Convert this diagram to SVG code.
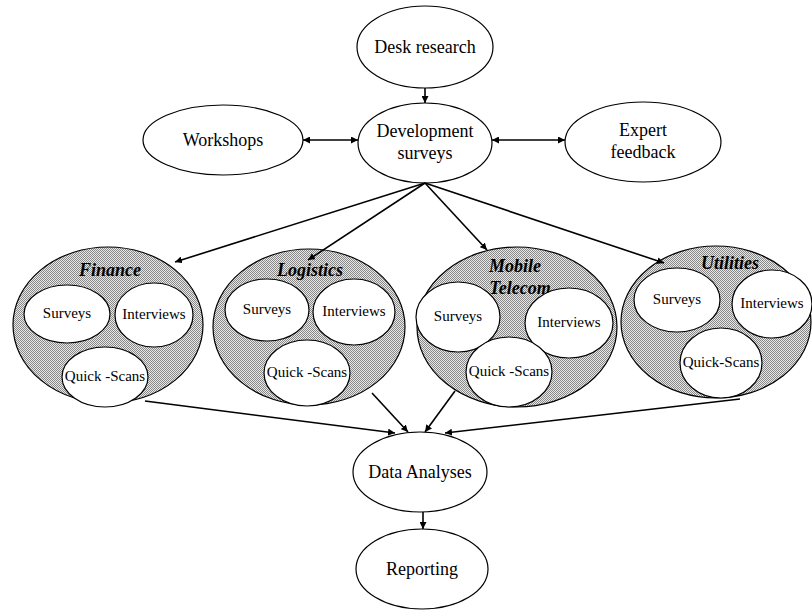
<svg xmlns="http://www.w3.org/2000/svg" width="812" height="610" viewBox="0 0 812 610" font-family="'Liberation Serif', 'DejaVu Serif', serif">
<style>
.n{fill:#fff;stroke:#000;stroke-width:1.2}
.g{fill:url(#dots);stroke:#000;stroke-width:1.2}
.c{fill:#fff;stroke:#000;stroke-width:1.2}
text{font-family:'Liberation Serif','DejaVu Serif',serif;fill:#000;text-anchor:middle}
.t{font-size:18px}
.s{font-size:15px}
.h{font-size:18px;font-weight:bold;font-style:italic}
.e{stroke:#000;stroke-width:1.6;fill:none}
</style>
<defs>
<pattern id="dots" width="2" height="2" patternUnits="userSpaceOnUse">
<rect width="2" height="2" fill="#e8e8e8"/>
<rect width="1" height="1" fill="#888"/>
<rect x="1" y="1" width="1" height="1" fill="#888"/>
</pattern>
<marker id="a" viewBox="0 0 10 10" refX="10" refY="5" markerWidth="7" markerHeight="7" orient="auto" markerUnits="userSpaceOnUse">
<path d="M0,0 L10,5 L0,10 z" fill="#000"/>
</marker>
<marker id="b" viewBox="0 0 10 10" refX="0" refY="5" markerWidth="7" markerHeight="7" orient="auto" markerUnits="userSpaceOnUse">
<path d="M10,0 L0,5 L10,10 z" fill="#000"/>
</marker>
</defs>

<g id="desk"><ellipse class="n" cx="425" cy="47" rx="68" ry="41"/><text class="t" x="425" y="53">Desk research</text></g>
<g id="dev"><ellipse class="n" cx="425" cy="143" rx="67" ry="40"/><text class="t" x="425" y="137">Development</text><text class="t" x="425" y="159">surveys</text></g>
<g id="workshops"><ellipse class="n" cx="223" cy="140" rx="80" ry="35"/><text class="t" x="223" y="146">Workshops</text></g>
<g id="expert"><ellipse class="n" cx="643" cy="142" rx="78" ry="40"/><text class="t" x="643" y="136">Expert</text><text class="t" x="643" y="158">feedback</text></g>

<g id="finance">
<ellipse class="g" cx="108" cy="325" rx="95" ry="78"/>
<text class="h" x="110" y="276">Finance</text>
<ellipse class="c" cx="67" cy="314" rx="43" ry="29"/><text class="s" x="67" y="318">Surveys</text>
<ellipse class="c" cx="154" cy="315" rx="39" ry="32"/><text class="s" x="154" y="319">Interviews</text>
<ellipse class="c" cx="105" cy="377" rx="43" ry="30"/><text class="s" x="105" y="381">Quick -Scans</text>
</g>
<g id="logistics">
<ellipse class="g" cx="309" cy="327" rx="96" ry="78"/>
<text class="h" x="310" y="276">Logistics</text>
<ellipse class="c" cx="267" cy="310" rx="42" ry="31"/><text class="s" x="267" y="314">Surveys</text>
<ellipse class="c" cx="354" cy="312" rx="41" ry="33"/><text class="s" x="354" y="316">Interviews</text>
<ellipse class="c" cx="307" cy="373" rx="43" ry="33"/><text class="s" x="307" y="377">Quick -Scans</text>
</g>
<g id="mobile">
<ellipse class="g" cx="517" cy="327" rx="100" ry="80"/>
<text class="h" x="515" y="272">Mobile</text>
<text class="h" x="520" y="294">Telecom</text>
<ellipse class="c" cx="458" cy="317" rx="42" ry="35"/><text class="s" x="458" y="321">Surveys</text>
<ellipse class="c" cx="569" cy="323" rx="44" ry="35"/><text class="s" x="569" y="327">Interviews</text>
<ellipse class="c" cx="509" cy="372" rx="43" ry="35"/><text class="s" x="509" y="376">Quick -Scans</text>
</g>
<g id="utilities">
<ellipse class="g" cx="716" cy="322" rx="95" ry="76"/>
<text class="h" x="730" y="269">Utilities</text>
<ellipse class="c" cx="677" cy="300" rx="43" ry="32"/><text class="s" x="677" y="304">Surveys</text>
<ellipse class="c" cx="772" cy="304" rx="40" ry="34"/><text class="s" x="772" y="308">Interviews</text>
<ellipse class="c" cx="721" cy="363" rx="41" ry="35"/><text class="s" x="721" y="367">Quick-Scans</text>
</g>

<g id="data"><ellipse class="n" cx="420" cy="472" rx="67" ry="40"/><text class="t" x="420" y="478">Data Analyses</text></g>
<g id="reporting"><ellipse class="n" cx="422" cy="569" rx="66" ry="40"/><text class="t" x="422" y="575">Reporting</text></g>

<g id="connectors">
<line class="e" x1="425" y1="88" x2="425" y2="103" marker-end="url(#a)"/>
<line class="e" x1="303" y1="140" x2="358" y2="140" marker-start="url(#b)" marker-end="url(#a)"/>
<line class="e" x1="492" y1="140" x2="565" y2="140" marker-start="url(#b)" marker-end="url(#a)"/>
<line class="e" x1="425" y1="183" x2="175" y2="262" marker-end="url(#a)"/>
<line class="e" x1="425" y1="183" x2="308" y2="260" marker-end="url(#a)"/>
<line class="e" x1="425" y1="183" x2="487" y2="250" marker-end="url(#a)"/>
<line class="e" x1="425" y1="183" x2="664" y2="263" marker-end="url(#a)"/>
<line class="e" x1="145" y1="401" x2="395" y2="433" marker-end="url(#a)"/>
<line class="e" x1="372" y1="393" x2="408" y2="432" marker-end="url(#a)"/>
<line class="e" x1="455" y1="391" x2="425" y2="432" marker-end="url(#a)"/>
<line class="e" x1="740" y1="399" x2="445" y2="433" marker-end="url(#a)"/>
<line class="e" x1="423" y1="512" x2="423" y2="529" marker-end="url(#a)"/>
</g>
</svg>
